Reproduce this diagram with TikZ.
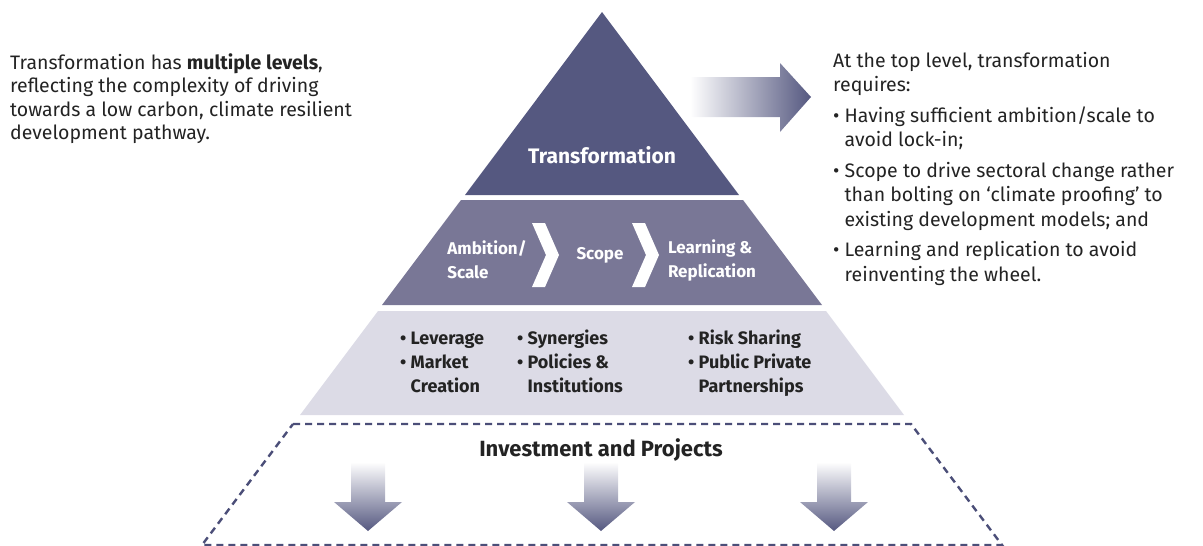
\documentclass[tikz,border=0pt]{standalone}
\usepackage{fontspec}
\setmainfont{Fira Sans}
\usetikzlibrary{positioning}

\definecolor{pyrtop}{RGB}{85,88,128}
\definecolor{pyrmid}{RGB}{121,119,150}
\definecolor{pyrlow}{RGB}{220,219,230}
\definecolor{pyrline}{RGB}{75,78,120}
\definecolor{txtgray}{RGB}{35,35,35}

\tikzset{
  sidetext/.style={anchor=north west, inner sep=0pt, align=left, text=txtgray,
    font=\fontsize{19.5}{23.5}\selectfont},
  bandtext/.style={inner sep=0pt, align=left, text=txtgray,
    font=\bfseries\fontsize{18}{24}\selectfont},
}

\begin{document}
\begin{tikzpicture}[x=1pt,y=-1pt]
	
	\useasboundingbox (0,0) rectangle (1203,546);
	
	% pyramid levels
	\fill[pyrtop] (602,12) -- (739,195) -- (465,195) -- cycle;
	\fill[pyrmid] (461,200) -- (743,200) -- (822,305) -- (382,305) -- cycle;
	\fill[pyrlow] (378,311) -- (826,311) -- (904,415) -- (300,415) -- cycle;
	\draw[pyrline, line width=2.4pt, dash pattern=on 7pt off 5pt]
		(293,424) -- (911,424) -- (1002,545) -- (202,545) -- cycle;
	
	% arrows
	\shade[left color=white, right color=pyrtop]
		(690,77) -- (780,77) -- (780,63) -- (811,97) -- (780,132) -- (780,117) -- (690,117) -- cycle;
	\foreach \ax in {368,601,834}
		\shade[top color=white, bottom color=pyrtop]
			({\ax-17},462) -- ({\ax+17},462) -- ({\ax+17},502) -- ({\ax+34},502)
			-- (\ax,531) -- ({\ax-34},502) -- ({\ax-17},502) -- cycle;
	
	% chevrons
	\fill[white] (532,223) -- (545,223) -- (559,255) -- (545,287) -- (532,287) -- (546,255) -- cycle;
	\fill[white] (632,223) -- (645,223) -- (659,255) -- (645,287) -- (632,287) -- (646,255) -- cycle;
	
	\node[sidetext] (intro) at (10,53) {Transformation has \textbf{multiple levels},\\
		reflecting the complexity of driving\\
		towards a low carbon, climate resilient\\
		development pathway.};
	
	\node[sidetext, font=\fontsize{19.5}{24.5}\selectfont] (needs) at (833,52) {At the top level, transformation\\
		requires:\\[6pt]
		\textbullet\ Having sufficient ambition/scale to\\
		\hphantom{\textbullet\ }avoid lock-in;\\[6pt]
		\textbullet\ Scope to drive sectoral change rather\\
		\hphantom{\textbullet\ }than bolting on ‘climate proofing’ to\\
		\hphantom{\textbullet\ }existing development models; and\\[6pt]
		\textbullet\ Learning and replication to avoid\\
		\hphantom{\textbullet\ }reinventing the wheel.};
	
	\node[text=white, font=\bfseries\fontsize{21}{24}\selectfont] (transf) at (602,155) {Transformation};
	
	\node[bandtext, text=white, font=\bfseries\fontsize{17}{24}\selectfont] (ambition) at (487,260) {Ambition/\\Scale};
	\node[bandtext, text=white, font=\bfseries\fontsize{17}{24}\selectfont] (scope) at (600,255) {Scope};
	\node[bandtext, text=white, font=\bfseries\fontsize{17}{24}\selectfont] (learning) at (712,260) {Learning \&\\Replication};
	
	\node[bandtext, anchor=north west] (lever) at (400,327) {\strut\textbullet\ Leverage\\
		\textbullet\ Market\\
		\hphantom{\textbullet\ }Creation};
	\node[bandtext, anchor=north west] (synerg) at (517,327) {\strut\textbullet\ Synergies\\
		\textbullet\ Policies \&\\
		\hphantom{\textbullet\ }Institutions};
	\node[bandtext, anchor=north west] (risk) at (688,327) {\strut\textbullet\ Risk Sharing\\
		\textbullet\ Public Private\\
		\hphantom{\textbullet\ }Partnerships};
	
	\node[text=txtgray, font=\bfseries\fontsize{22}{24}\selectfont] (invest) at (601,450) {Investment and Projects};
	
\end{tikzpicture}
\end{document}
